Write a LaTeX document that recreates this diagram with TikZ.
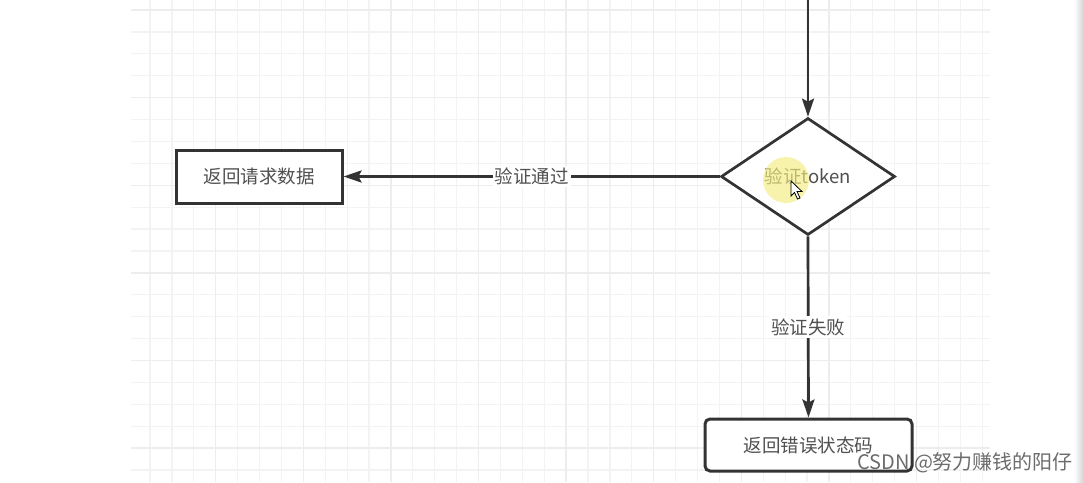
\documentclass[tikz,border=0pt]{standalone}
\usepackage{fontspec}
\setmainfont{Noto Sans CJK SC}
\usetikzlibrary{shapes.geometric,arrows.meta}
\definecolor{linec}{HTML}{333333}
\definecolor{textc}{HTML}{505050}
\definecolor{gridminor}{HTML}{F3F3F3}
\definecolor{gridmajor}{HTML}{EDEDED}
\definecolor{hl}{HTML}{F5EE80}
\tikzset{
  gmin/.style={draw=gridminor,line width=1.2pt},
  gmaj/.style={draw=gridmajor,line width=1.4pt},
  box/.style={draw=linec,line width=3pt,fill=white,minimum width=166pt,minimum height=53pt,inner sep=0pt,text=textc,font=\fontsize{18.5}{22}\selectfont},
  diam/.style={diamond,draw=linec,line width=2.7pt,fill=white,minimum width=174pt,minimum height=117pt,inner sep=0pt,text=textc,font=\fontsize{18.5}{22}\selectfont},
  arr/.style={draw=linec,line width=2.7pt,-{Stealth[length=18pt,width=12pt,inset=3pt]}},
  lbl/.style={fill=white,inner sep=2pt,text=textc,font=\fontsize{18.5}{22}\selectfont},
  wm/.style={text=gray!85!black,font=\fontsize{20}{24}\selectfont,inner sep=0pt}
}
\begin{document}
\begin{tikzpicture}[x=1pt,y=-1pt]
\useasboundingbox (0,0) rectangle (1084,482);
\fill[white] (0,0) rectangle (1084,482);
% grid
\foreach \k in {0,...,38} \draw[gmin] ({150+21.9*\k},0) -- ({150+21.9*\k},482);
\foreach \k in {0,...,21} \draw[gmin] (131,{10+21.9*\k}) -- (990,{10+21.9*\k});
\foreach \k in {3,7,...,35} \draw[gmaj] ({150+21.9*\k},0) -- ({150+21.9*\k},482);
\foreach \k in {0,4,...,20} \draw[gmaj] (131,{10+21.9*\k}) -- (990,{10+21.9*\k});
% right edge shade
\shade[left color=white,right color=gray!35] (1074,0) rectangle (1084,482);
% nodes
\node[box] (ok) at (259,176.5) {返回请求数据};
\node[diam] (d) at (808,176.5) {验证token};
\node[box,rounded corners=5pt,minimum width=207pt,minimum height=52pt] (err) at (808.5,445) {返回错误状态码};
\coordinate (top) at (808,-3);
% connectors
\draw[arr] (top) -- (d.north);
\draw[arr] (d.west) -- node[lbl] (l1) {验证通过} (ok.east);
\draw[arr] (d.south) -- node[lbl] (l2) {验证失败} (err.north);
% cursor highlight
\fill[hl,fill opacity=0.65] (786,180) circle (23);
\filldraw[fill=white,draw=black,line width=0.8pt] (791,181) -- (791,196) -- (794.5,192.5) -- (797.5,199) -- (800,198) -- (797,191.5) -- (802,191.5) -- cycle;
% watermark
\node[wm,anchor=west] (wmk) at (857,463) {CSDN @努力赚钱的阳仔};
\end{tikzpicture}
\end{document}
